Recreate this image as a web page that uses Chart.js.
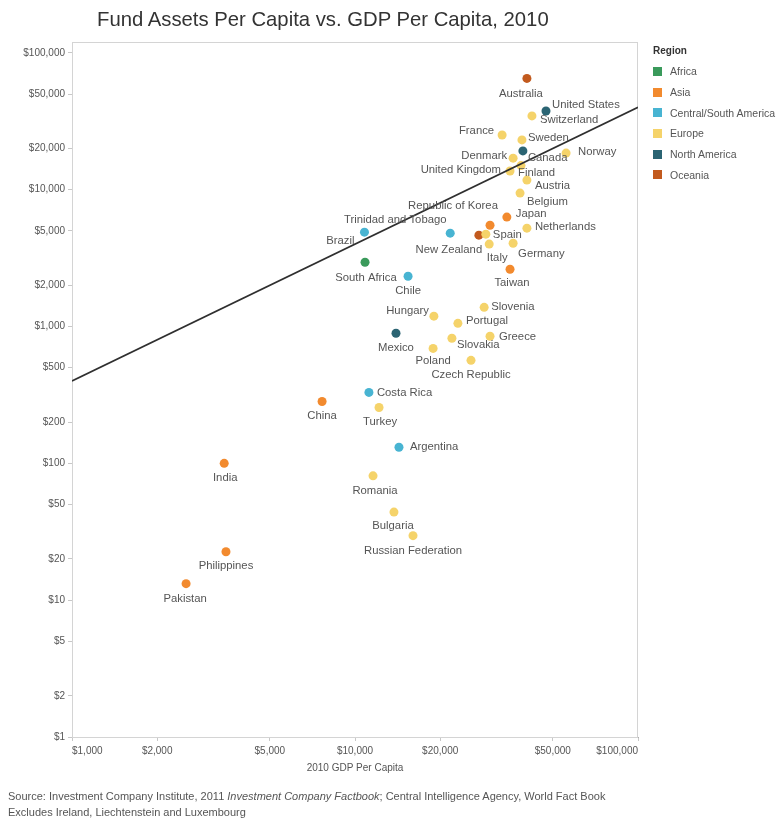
<!DOCTYPE html>
<html>
<head>
<meta charset="utf-8">
<script src="https://cdn.jsdelivr.net/npm/chart.js@4.4.1/dist/chart.umd.min.js"></script>
<style>
  body { margin: 0; background: #fff; font-family: "Liberation Sans", Arial, sans-serif; }
  #wrap { position: relative; width: 784px; height: 819px; }
  #title { position: absolute; left: 97px; top: 8px; font-size: 20.3px; color: #333; white-space: nowrap; }
  #legend { position: absolute; left: 653px; top: 45px; font-size: 10.5px; color: #555; }
  #legend .head { font-weight: bold; color: #333; height: 16px; font-size: 10px; }
  #legend .item { height: 20.7px; display: flex; align-items: center; }
  #legend .sw { width: 9px; height: 9px; margin-right: 8px; }
  #footer { position: absolute; left: 8px; top: 788px; font-size: 11px; color: #555; line-height: 16px; white-space: nowrap; }
</style>
</head>
<body>
<div id="wrap">
  <canvas id="chart"></canvas>
  <div id="title">Fund Assets Per Capita vs. GDP Per Capita, 2010</div>
  <div id="legend"></div>
  <div id="footer">Source: Investment Company Institute, 2011 <i>Investment Company Factbook</i>; Central Intelligence Agency, World Fact Book<br>Excludes Ireland, Liechtenstein and Luxembourg</div>
</div>
<script>
// Data
const regionNames = ['Africa', 'Asia', 'Central/South America', 'Europe', 'North America', 'Oceania'];
const regionColors = ['#3a9a5b', '#f28a2e', '#48b4d2', '#f5d36a', '#2b6473', '#c25a1e'];

const countries = ['Australia', 'United States', 'Switzerland', 'France', 'Sweden', 'Canada', 'Norway',
  'Denmark', 'United Kingdom', 'Finland', 'Austria', 'Belgium', 'Japan', 'Republic of Korea', 'Netherlands',
  'Spain', 'New Zealand', 'Italy', 'Germany', 'Trinidad and Tobago', 'Brazil', 'South Africa', 'Chile',
  'Taiwan', 'Slovenia', 'Hungary', 'Portugal', 'Slovakia', 'Greece', 'Mexico', 'Poland', 'Czech Republic',
  'Costa Rica', 'China', 'Turkey', 'Argentina', 'India', 'Romania', 'Bulgaria', 'Russian Federation',
  'Philippines', 'Pakistan'];
const countryRegion = ['Oceania', 'North America', 'Europe', 'Europe', 'Europe', 'North America', 'Europe',
  'Europe', 'Europe', 'Europe', 'Europe', 'Europe', 'Asia', 'Asia', 'Europe',
  'Europe', 'Oceania', 'Europe', 'Europe', 'Central/South America', 'Central/South America', 'Africa', 'Central/South America',
  'Asia', 'Europe', 'Europe', 'Europe', 'Europe', 'Europe', 'North America', 'Europe', 'Europe',
  'Central/South America', 'Asia', 'Europe', 'Central/South America', 'Asia', 'Europe', 'Europe', 'Europe',
  'Asia', 'Asia'];
const gdpPerCapita = [40500, 47300, 42200, 33100, 38900, 39200, 55700,
  36200, 35300, 38600, 40500, 38300, 34400, 30000, 40500,
  29000, 27400, 29800, 36200, 21700, 10800, 10850, 15400,
  35300, 28600, 19000, 23100, 22000, 30000, 13960, 18880, 25700,
  11200, 7650, 12160, 14300, 3450, 11580, 13730, 16030,
  3500, 2530];
const fundAssetsPerCapita = [65000, 37600, 34600, 25100, 23100, 19200, 18500,
  17000, 13700, 15000, 11750, 9440, 6300, 5500, 5230,
  4730, 4650, 4000, 4060, 4810, 4890, 2950, 2330,
  2620, 1380, 1190, 1055, 820, 848, 892, 692, 566,
  330, 283, 256, 131, 100, 81, 44, 29.6,
  22.6, 13.2];

// trend line, read at the two ends of the axis
const trendGdp = [1000, 100000];
const trendAssets = [400, 40000];

const xTicks = [1000, 2000, 5000, 10000, 20000, 50000, 100000];
const yTicks = [1, 2, 5, 10, 20, 50, 100, 200, 500, 1000, 2000, 5000, 10000, 20000, 50000, 100000];

// label placement (dx, dy, align) relative to the mark
const labelPlace = {
  'Australia': [-6, 15, 'center'], 'United States': [6, -6, 'left'], 'Switzerland': [8, 4, 'left'],
  'France': [-8, -4, 'right'], 'Sweden': [6, -2, 'left'], 'Canada': [5, 7, 'left'], 'Norway': [12, -1, 'left'],
  'Denmark': [-6, -2, 'right'], 'United Kingdom': [-9, -1, 'right'], 'Finland': [-3, 7, 'left'],
  'Austria': [8, 6, 'left'], 'Belgium': [7, 9, 'left'], 'Japan': [9, -3, 'left'],
  'Republic of Korea': [-37, -19, 'center'], 'Netherlands': [8, -1, 'left'], 'Spain': [7, 1, 'left'],
  'New Zealand': [-30, 15, 'center'], 'Italy': [8, 14, 'center'], 'Germany': [5, 11, 'left'],
  'Trinidad and Tobago': [-55, -13, 'center'], 'Brazil': [-10, 9, 'right'], 'South Africa': [1, 16, 'center'],
  'Chile': [0, 15, 'center'], 'Taiwan': [2, 14, 'center'], 'Slovenia': [7, 0, 'left'],
  'Hungary': [-5, -5, 'right'], 'Portugal': [8, -2, 'left'], 'Slovakia': [5, 7, 'left'],
  'Greece': [9, 1, 'left'], 'Mexico': [0, 15, 'center'], 'Poland': [0, 13, 'center'],
  'Czech Republic': [0, 15, 'center'], 'Costa Rica': [8, 0, 'left'], 'China': [0, 14, 'center'],
  'Turkey': [1, 14, 'center'], 'Argentina': [11, 0, 'left'], 'India': [1, 15, 'center'],
  'Romania': [2, 15, 'center'], 'Bulgaria': [-1, 14, 'center'], 'Russian Federation': [0, 15, 'center'],
  'Philippines': [0, 14, 'center'], 'Pakistan': [-1, 15, 'center']
};

const money = v => '$' + Number(v).toLocaleString('en-US');

// one scatter dataset per region
const scatterSets = regionNames.map((r, ri) => {
  const pts = [];
  countries.forEach((c, i) => {
    if (countryRegion[i] === r) pts.push({ x: gdpPerCapita[i], y: fundAssetsPerCapita[i], name: c });
  });
  return {
    type: 'scatter',
    label: r,
    data: pts,
    backgroundColor: regionColors[ri],
    borderWidth: 0,
    pointRadius: 4.5,
    order: 1
  };
});

const trendSet = {
  type: 'line',
  label: 'Trend',
  data: trendGdp.map((g, i) => ({ x: g, y: trendAssets[i] })),
  borderColor: '#2f2f2f',
  borderWidth: 1.6,
  pointRadius: 0,
  order: 0
};

// country names next to the marks
const pointLabels = {
  id: 'pointLabels',
  afterDatasetsDraw(chart) {
    const ctx = chart.ctx;
    ctx.save();
    ctx.font = '11.3px "Liberation Sans", Arial, sans-serif';
    ctx.fillStyle = '#555';
    ctx.textBaseline = 'middle';
    chart.data.datasets.forEach((ds, di) => {
      if (ds.type !== 'scatter') return;
      chart.getDatasetMeta(di).data.forEach((el, j) => {
        const name = ds.data[j].name;
        const p = labelPlace[name] || [0, 14, 'center'];
        ctx.textAlign = p[2];
        ctx.fillText(name, el.x + p[0], el.y + p[1]);
      });
    });
    ctx.restore();
  }
};

// thin frame around the plot
const frame = {
  id: 'frame',
  beforeDatasetsDraw(chart) {
    const a = chart.chartArea;
    const ctx = chart.ctx;
    ctx.save();
    ctx.strokeStyle = '#d4d4d4';
    ctx.lineWidth = 1;
    ctx.strokeRect(a.left + 0.5, a.top + 0.5, a.right - a.left - 1, a.bottom - a.top);
    ctx.restore();
  }
};

const tickFont = { family: '"Liberation Sans", Arial, sans-serif', size: 10 };

const config = {
  data: { datasets: [...scatterSets, trendSet] },
  options: {
    responsive: true,
    maintainAspectRatio: false,
    animation: false,
    layout: { padding: { top: 42, right: 146, bottom: 37, left: 0 } },
    plugins: {
      legend: { display: false },
      tooltip: { enabled: false },
      title: { display: false }
    },
    scales: {
      x: {
        type: 'logarithmic',
        min: 1000,
        max: 100000,
        afterBuildTicks: s => { s.ticks = xTicks.map(v => ({ value: v })); },
        afterFit: s => { s.height = 45; },
        ticks: { callback: v => money(v), font: tickFont, color: '#555', padding: 4, maxRotation: 0, align: 'inner' },
        grid: { drawOnChartArea: false, tickLength: 4, color: '#c8c8c8' },
        border: { color: '#b0b0b0' },
        title: { display: true, text: '2010 GDP Per Capita', font: tickFont, color: '#555', padding: { top: 4, bottom: 8 } }
      },
      y: {
        type: 'logarithmic',
        min: 1,
        max: 120000,
        afterBuildTicks: s => { s.ticks = yTicks.map(v => ({ value: v })); },
        afterFit: s => { s.width = 72; },
        ticks: { callback: v => money(v), font: tickFont, color: '#555', padding: 3 },
        grid: { drawOnChartArea: false, tickLength: 4, color: '#c8c8c8' },
        border: { color: '#b0b0b0' }
      }
    }
  },
  plugins: [frame, pointLabels]
};

const myChart = new Chart(document.getElementById('chart'), config);

// legend
const legend = document.getElementById('legend');
legend.innerHTML = '<div class="head">Region</div>' + regionNames.map((r, i) =>
  '<div class="item"><span class="sw" style="background:' + regionColors[i] + '"></span>' + r + '</div>').join('');
</script>
</body>
</html>
